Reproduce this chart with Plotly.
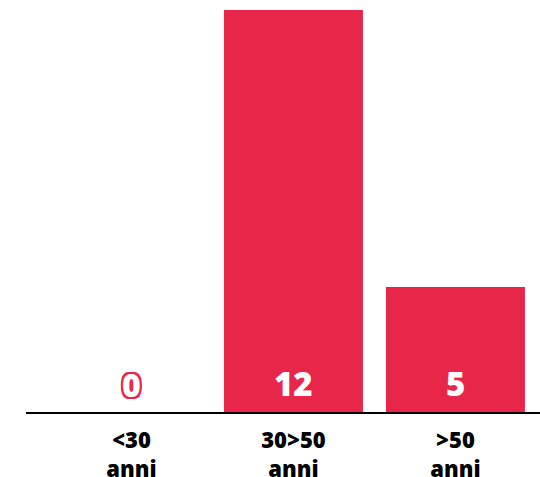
import plotly.graph_objects as go

categories = ["<30<br>anni", "30>50<br>anni", ">50<br>anni"]
values = [0, 12, 5]

RED = "#E8264A"
FONT = "Open Sans"

fig = go.Figure()
fig.add_trace(go.Bar(
    x=categories, y=values,
    marker=dict(color=RED, line=dict(width=0)),
    hoverinfo="skip",
))

outline = ", ".join(f"{dx}px {dy}px 0 {RED}" for dx in (-2, 0, 2) for dy in (-2, 0, 2) if (dx, dy) != (0, 0))
for c, v in zip(categories, values):
    if v == 0:
        font = dict(family=FONT, size=32, color="white", weight=800, shadow=outline)
    else:
        font = dict(family=FONT, size=33, color="white", weight=800)
    fig.add_annotation(x=c, y=0, xref="x", yref="paper", yanchor="bottom",
                       yshift=4, text=str(v), showarrow=False, font=font)

fig.update_layout(
    width=540, height=477,
    margin=dict(l=26, r=0, t=10, b=65, autoexpand=False),
    paper_bgcolor="white", plot_bgcolor="white",
    bargap=0.142,
    showlegend=False,
    xaxis=dict(range=[-0.651, 2.522], showline=True, linecolor="black", linewidth=2,
               ticks="", showgrid=False, zeroline=False, automargin=False,
               tickfont=dict(family=FONT, size=22, color="black", weight=800),
               ticklabelstandoff=8),
    yaxis=dict(range=[1.84, 12], visible=False, showgrid=False, zeroline=False,
               automargin=False),
)

fig.write_html("out.html", config={"displayModeBar": False},
               post_script="document.body.style.margin='0';")
